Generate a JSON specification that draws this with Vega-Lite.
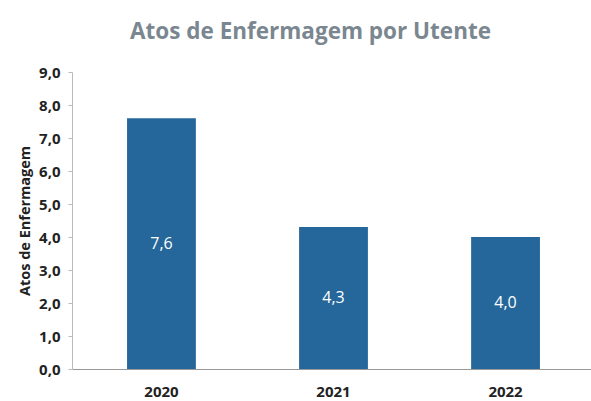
{
  "$schema": "https://vega.github.io/schema/vega-lite/v6.json",
  "width": 523,
  "height": 297,
  "autosize": {"type": "none"},
  "padding": {"left": 72, "top": 72, "right": 0, "bottom": 32},
  "background": "white",
  "title": {
    "text": "Atos de Enfermagem por Utente",
    "font": "Open Sans",
    "fontSize": 22.5,
    "fontWeight": "bold",
    "color": "#7B8790",
    "anchor": "middle",
    "dx": -23,
    "offset": 22
  },
  "config": {
    "locale": {"number": {"decimal": ",", "thousands": ".", "grouping": [3], "currency": ["", " €"]}},
    "view": {"stroke": null},
    "axis": {"labelFont": "Open Sans", "titleFont": "Open Sans"}
  },
  "data": {
    "values": [
      {"ano": "2020", "valor": 7.6},
      {"ano": "2021", "valor": 4.3},
      {"ano": "2022", "valor": 4.0}
    ]
  },
  "encoding": {
    "x": {
      "field": "ano",
      "type": "ordinal",
      "scale": {"paddingInner": 0.6, "paddingOuter": 0.32},
      "axis": {
        "title": null,
        "labelAngle": 0,
        "labelFontSize": 15,
        "labelFontWeight": "bold",
        "labelColor": "#222222",
        "labelPadding": 15,
        "domainColor": "#999999",
        "ticks": false
      }
    },
    "y": {
      "field": "valor",
      "type": "quantitative",
      "scale": {"domain": [0, 9]},
      "axis": {
        "title": "Atos de Enfermagem",
        "titleFontSize": 14.5,
        "titleFontWeight": "bold",
        "titleColor": "#222222",
        "titlePadding": 6,
        "values": [0, 1, 2, 3, 4, 5, 6, 7, 8, 9],
        "labelOverlap": false,
        "format": ".1f",
        "grid": false,
        "labelFontSize": 15,
        "labelFontWeight": "bold",
        "labelColor": "#222222",
        "labelPadding": 8,
        "domainColor": "#BBBBBB",
        "tickColor": "#BBBBBB",
        "tickSize": 4
      }
    }
  },
  "layer": [
    {"mark": {"type": "bar", "color": "#25679A"}},
    {
      "mark": {"type": "text", "color": "white", "fontSize": 16, "font": "Open Sans", "baseline": "middle", "dy": {"expr": "(scale('y', 0) - scale('y', datum.valor)) / 2"}},
      "encoding": {
        "text": {"field": "valor", "type": "quantitative", "format": ".1f"}
      }
    }
  ]
}
